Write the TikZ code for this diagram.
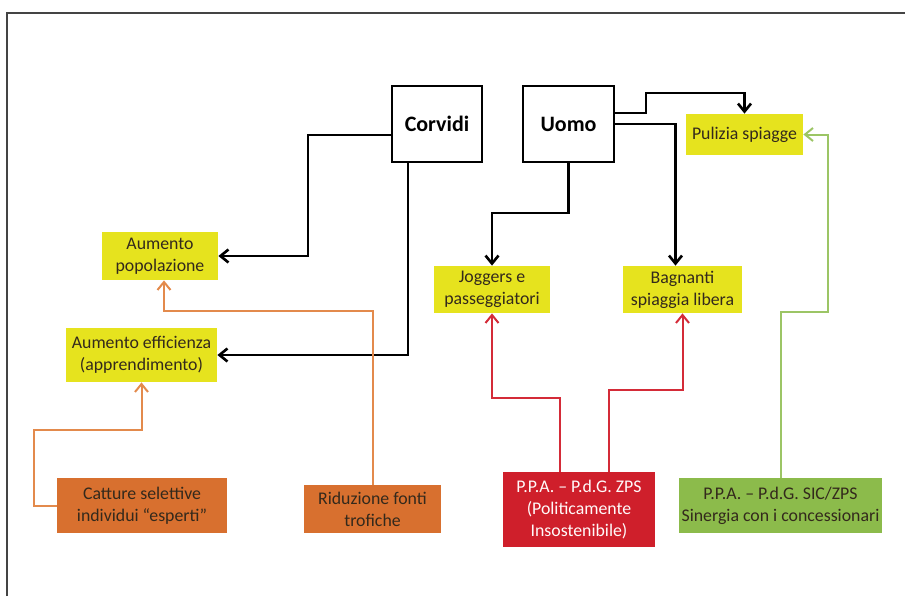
\documentclass[tikz,border=0pt]{standalone}
\usepackage{fontspec}
\setmainfont{Carlito}
\usetikzlibrary{arrows.meta}

\definecolor{giallo}{HTML}{E6E31E}
\definecolor{arancio}{HTML}{D8702F}
\definecolor{lineaarancio}{HTML}{E38A4C}
\definecolor{rosso}{HTML}{CF1F2B}
\definecolor{linearossa}{HTML}{D42B38}
\definecolor{verde}{HTML}{8CBB4B}
\definecolor{lineaverde}{HTML}{9CC565}
\definecolor{testo}{HTML}{33291C}
\definecolor{cornice}{HTML}{444444}

\begin{document}
\begin{tikzpicture}[x=0.5pt,y=-0.5pt,
                >={Straight Barb[length=4pt,width=6.5pt]},
                main/.style = {draw, line width=1.3pt, inner sep=0pt, align=center,
                               font=\fontsize{11}{13}\selectfont\bfseries},
                box/.style = {inner sep=0pt, align=center, text=testo,
                              font=\fontsize{8.9}{11}\selectfont},
                blk/.style = {->, line width=1.3pt},
                arc/.style = {->, line width=1pt, draw=lineaarancio},
                ros/.style = {->, line width=1pt, draw=linearossa},
                ver/.style = {->, line width=1pt, draw=lineaverde}]
            \useasboundingbox (0,0) rectangle (905,596);
            \draw[cornice, line width=0.9pt] (7,596) -- (7,13) -- (905,13);

            % Nodes
            \node[main, minimum width=45pt, minimum height=38pt] (corv) at (437,124) {Corvidi};
            \node[main, minimum width=45.5pt, minimum height=38pt] (uomo) at (568.5,124) {Uomo};
            \node[box, fill=giallo, minimum width=58.5pt, minimum height=20.5pt] (pul) at (744.5,134.5) {Pulizia spiagge};
            \node[box, fill=giallo, minimum width=58pt, minimum height=24pt] (pop) at (160,256) {Aumento\\popolazione};
            \node[box, fill=giallo, minimum width=75.5pt, minimum height=27pt] (eff) at (141.5,355) {Aumento efficienza\\(apprendimento)};
            \node[box, fill=giallo, minimum width=58pt, minimum height=23.5pt] (jog) at (492,289.5) {Joggers e\\passeggiatori};
            \node[box, fill=giallo, minimum width=59.5pt, minimum height=23.5pt] (bag) at (682.5,289.5) {Bagnanti\\spiaggia libera};
            \node[box, fill=arancio, minimum width=85pt, minimum height=27.5pt] (cat) at (142,505.5) {Catture selettive\\individui ``esperti''};
            \node[box, fill=arancio, minimum width=68.5pt, minimum height=24pt] (rid) at (372.5,509) {Riduzione fonti\\trofiche};
            \node[box, fill=rosso, text=white!92!pink, minimum width=76pt, minimum height=37.5pt] (zps) at (579,509.5) {P.P.A. -- P.d.G. ZPS\\(Politicamente\\Insostenibile)};
            \node[box, fill=verde, minimum width=101.5pt, minimum height=27.5pt] (sic) at (780.5,505.5) {P.P.A. -- P.d.G. SIC/ZPS\\Sinergia con i concessionari};

            %Edges
            \draw[blk] ([yshift=-5.5pt]corv.west) -| (308,256) -- (pop.east);
            \draw[blk] ([xshift=-14.5pt]corv.south) |- (eff.east);
            \draw[blk] ([yshift=5.5pt]uomo.east) -| (646,93) -| (pul.north);
            \draw[blk] (uomo.east) -| ([xshift=-3.5pt]bag.north);
            \draw[blk] (uomo.south) -- (568.5,213) -| (jog.north);
            \draw[arc] (rid.north) -- (372.5,311) -| ([xshift=2pt]pop.south);
            \draw[arc] (cat.west) -| (34,430) -| (eff.south);
            \draw[ros] ([xshift=-9.5pt]zps.north) -- (560,398) -| (jog.south);
            \draw[ros] ([xshift=15pt]zps.north) -- (609,390) -| (bag.south);
            \draw[ver] (sic.north) -- (780.5,312) -| (828,134.5) -- (pul.east);
        \end{tikzpicture}
\end{document}
